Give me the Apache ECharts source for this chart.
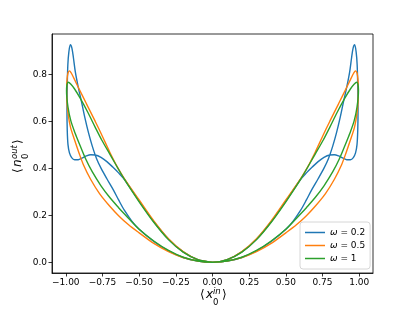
<!DOCTYPE html>
<html><head><meta charset="utf-8">
<script src="https://cdn.jsdelivr.net/npm/echarts@6/dist/echarts.min.js"></script>
<style>html,body{margin:0;padding:0;background:#fff}#c{width:415px;height:311px}</style>
</head><body><div id="c"></div>
<script>
// Series names
var seriesNames = ['ω = 0.2', 'ω = 0.5', 'ω = 1'];
// Tick labels
var xTicks = [-1, -0.75, -0.5, -0.25, 0, 0.25, 0.5, 0.75, 1];
var yTicks = [0, 0.2, 0.4, 0.6, 0.8];

// ω = 0.2 : left loop (origin -> upper branch -> tip -> lower branch -> origin)
var blueLeft = [[0,0],[-0.1,0.011],[-0.2,0.044],[-0.3,0.098],[-0.4,0.172],[-0.5,0.26],[-0.6,0.352],[-0.64,0.38],[-0.68,0.405],[-0.72,0.428],[-0.76,0.446],[-0.8,0.456],[-0.83,0.457],[-0.86,0.452],[-0.89,0.443],[-0.915,0.436],[-0.94,0.436],[-0.96,0.445],[-0.975,0.465],[-0.985,0.5],[-0.99,0.56],[-0.992,0.65],[-0.99,0.75],[-0.986,0.84],[-0.979,0.895],[-0.969,0.925],
  [-0.958,0.91],[-0.948,0.87],[-0.935,0.81],[-0.915,0.745],[-0.892,0.68],[-0.87,0.615],[-0.845,0.55],[-0.82,0.495],[-0.79,0.44],[-0.76,0.4],[-0.72,0.355],[-0.676,0.308],[-0.64,0.265],[-0.6,0.22],[-0.55,0.175],[-0.5,0.14],[-0.4,0.088],[-0.3,0.048],[-0.2,0.02],[-0.1,0.005],[0,0]];
// ω = 0.2 : right loop
var blueRight = [[0,0],[0.1,0.011],[0.2,0.044],[0.3,0.098],[0.4,0.172],[0.5,0.26],[0.6,0.352],[0.64,0.38],[0.68,0.405],[0.72,0.428],[0.76,0.446],[0.8,0.456],[0.83,0.457],[0.86,0.452],[0.89,0.443],[0.915,0.436],[0.94,0.436],[0.96,0.445],[0.975,0.465],[0.985,0.5],[0.99,0.56],[0.992,0.65],[0.99,0.75],[0.986,0.84],[0.979,0.895],[0.969,0.925],
  [0.958,0.91],[0.948,0.87],[0.935,0.81],[0.915,0.745],[0.892,0.68],[0.87,0.615],[0.845,0.55],[0.82,0.495],[0.79,0.44],[0.76,0.4],[0.72,0.355],[0.676,0.308],[0.64,0.265],[0.6,0.22],[0.55,0.175],[0.5,0.14],[0.4,0.088],[0.3,0.048],[0.2,0.02],[0.1,0.005],[0,0]];

// ω = 0.5 : left loop
var orangeLeft = [[0,0],[-0.1,0.011],[-0.2,0.045],[-0.3,0.1],[-0.4,0.176],[-0.5,0.265],[-0.6,0.355],[-0.65,0.407],[-0.7,0.468],[-0.75,0.535],[-0.8,0.6],[-0.86,0.675],[-0.91,0.738],[-0.945,0.783],[-0.963,0.805],[-0.975,0.814],
  [-0.985,0.805],[-0.991,0.78],[-0.994,0.74],[-0.993,0.69],[-0.986,0.64],[-0.968,0.575],[-0.94,0.52],[-0.91,0.465],[-0.88,0.415],[-0.83,0.352],[-0.77,0.292],[-0.7,0.238],[-0.64,0.198],[-0.57,0.158],[-0.5,0.125],[-0.4,0.08],[-0.3,0.045],[-0.2,0.02],[-0.1,0.005],[0,0]];
// ω = 0.5 : right loop
var orangeRight = [[0,0],[0.1,0.011],[0.2,0.045],[0.3,0.1],[0.4,0.176],[0.5,0.265],[0.6,0.355],[0.65,0.407],[0.7,0.468],[0.75,0.535],[0.8,0.6],[0.86,0.675],[0.91,0.738],[0.945,0.783],[0.963,0.805],[0.975,0.814],
  [0.985,0.805],[0.991,0.78],[0.994,0.74],[0.993,0.69],[0.986,0.64],[0.968,0.575],[0.94,0.52],[0.91,0.465],[0.88,0.415],[0.83,0.352],[0.77,0.292],[0.7,0.238],[0.64,0.198],[0.57,0.158],[0.5,0.125],[0.4,0.08],[0.3,0.045],[0.2,0.02],[0.1,0.005],[0,0]];

// ω = 1 : left loop
var greenLeft = [[0,0],[-0.1,0.011],[-0.2,0.043],[-0.3,0.096],[-0.4,0.17],[-0.5,0.257],[-0.6,0.352],[-0.7,0.46],[-0.755,0.52],[-0.8,0.575],[-0.85,0.638],[-0.9,0.696],[-0.94,0.737],[-0.965,0.757],[-0.983,0.766],
  [-0.992,0.755],[-0.995,0.73],[-0.985,0.66],[-0.965,0.6],[-0.937,0.55],[-0.905,0.5],[-0.865,0.44],[-0.82,0.385],[-0.76,0.325],[-0.7,0.275],[-0.64,0.232],[-0.6,0.205],[-0.5,0.14],[-0.4,0.09],[-0.3,0.05],[-0.2,0.021],[-0.1,0.005],[0,0]];
// ω = 1 : right loop
var greenRight = [[0,0],[0.1,0.011],[0.2,0.043],[0.3,0.096],[0.4,0.17],[0.5,0.257],[0.6,0.352],[0.7,0.46],[0.755,0.52],[0.8,0.575],[0.85,0.638],[0.9,0.696],[0.94,0.737],[0.965,0.757],[0.983,0.766],
  [0.992,0.755],[0.995,0.73],[0.985,0.66],[0.965,0.6],[0.937,0.55],[0.905,0.5],[0.865,0.44],[0.82,0.385],[0.76,0.325],[0.7,0.275],[0.64,0.232],[0.6,0.205],[0.5,0.14],[0.4,0.09],[0.3,0.05],[0.2,0.021],[0.1,0.005],[0,0]];

var colors = ['#1f77b4', '#ff7f0e', '#2ca02c'];
var loops = [blueLeft.concat(blueRight), orangeLeft.concat(orangeRight), greenLeft.concat(greenRight)];

var chart = echarts.init(document.getElementById('c'), null, {renderer: 'canvas'});
var FF = 'DejaVu Sans';
function fmtX(v){ return (v < 0 ? '\u2212' : '') + Math.abs(v).toFixed(2); }
function fmtY(v){ return (v < 0 ? '\u2212' : '') + Math.abs(v).toFixed(1); }

var series = loops.map(function(d, i){
  return {
    name: seriesNames[i], type: 'line', data: d, symbol: 'none', showSymbol: false,
    smooth: 0.3, animation: false, clip: true,
    lineStyle: {color: colors[i], width: 1.4}, itemStyle: {color: colors[i]}
  };
});

chart.setOption({
  animation: false,
  backgroundColor: '#fff',
  color: colors,
  grid: {left: 52, top: 34, right: 42, bottom: 38, show: true, borderColor: '#000', borderWidth: 0.8, backgroundColor: 'transparent'},
  xAxis: {
    type: 'value', min: -1.094, max: 1.094,
    axisLine: {show: true, onZero: false, lineStyle: {color: '#000', width: 0.8}},
    axisTick: {show: true, customValues: xTicks, length: 3.5, lineStyle: {color: '#000', width: 0.8}},
    axisLabel: {customValues: xTicks, formatter: fmtX, fontFamily: FF, fontSize: 9, color: '#000', margin: 5},
    splitLine: {show: false}
  },
  yAxis: {
    type: 'value', min: -0.046, max: 0.971,
    axisLine: {show: true, onZero: false, lineStyle: {color: '#000', width: 0.8}},
    axisTick: {show: true, customValues: yTicks, length: 3.5, lineStyle: {color: '#000', width: 0.8}},
    axisLabel: {customValues: yTicks, formatter: fmtY, fontFamily: FF, fontSize: 9, color: '#000', margin: 5},
    splitLine: {show: false}
  },
  legend: {
    orient: 'vertical', left: 300, top: 222,
    icon: 'rect', itemWidth: 20, itemHeight: 1.5, itemGap: 2,
    padding: [5, 5, 5, 5],
    borderColor: '#ccc', borderWidth: 0.8, borderRadius: 3,
    backgroundColor: 'rgba(255,255,255,0.85)',
    data: seriesNames,
    formatter: function(name){ return '{w|ω} ' + name.slice(2); },
    textStyle: {fontFamily: FF, fontSize: 9, color: '#000', lineHeight: 11, rich: {w: {fontFamily: FF, fontStyle: 'italic', fontSize: 9, color: '#000'}}}
  },
  graphic: [
    {type: 'group', left: 200, top: 287, children: [
      {type: 'text', x: 0, y: 2, style: {text: '⟨', font: '12px "DejaVu Sans"', fill: '#000'}},
      {type: 'text', x: 6, y: 2, style: {text: 'x', font: 'italic 12px "DejaVu Sans"', fill: '#000'}},
      {type: 'text', x: 13, y: 0, style: {text: 'in', font: 'italic 8.5px "DejaVu Sans"', fill: '#000'}},
      {type: 'text', x: 13, y: 11, style: {text: '0', font: '8.5px "DejaVu Sans"', fill: '#000'}},
      {type: 'text', x: 22, y: 2, style: {text: '⟩', font: '12px "DejaVu Sans"', fill: '#000'}}
    ]},
    {type: 'group', x: 10, y: 173, rotation: Math.PI / 2, children: [
      {type: 'text', x: 0, y: 2, style: {text: '⟨', font: '12px "DejaVu Sans"', fill: '#000'}},
      {type: 'text', x: 6, y: 2, style: {text: 'n', font: 'italic 12px "DejaVu Sans"', fill: '#000'}},
      {type: 'text', x: 14, y: 0, style: {text: 'out', font: 'italic 8.5px "DejaVu Sans"', fill: '#000'}},
      {type: 'text', x: 14, y: 11, style: {text: '0', font: '8.5px "DejaVu Sans"', fill: '#000'}},
      {type: 'text', x: 29, y: 2, style: {text: '⟩', font: '12px "DejaVu Sans"', fill: '#000'}}
    ]}
  ],
  series: series
});
</script></body></html>
